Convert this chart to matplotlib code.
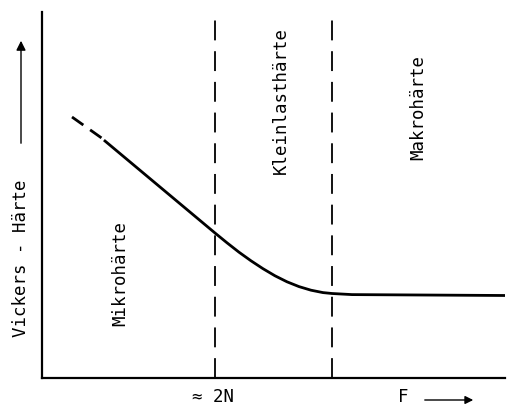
import matplotlib
matplotlib.use("Agg")
import matplotlib.pyplot as plt

# Data (abstract units: x ~ load F, y ~ Vickers hardness)
dash_x = [30, 61]
dash_y = [261, 239]
curve_x = [63, 118, 173, 185, 197, 209, 221, 233, 245, 257, 269, 281, 290, 310, 463]
curve_y = [237, 191, 145, 135.2, 125.8, 117.2, 109.3, 102.2, 96.2, 91.4, 87.8, 85.4, 84.5, 83.4, 82.5]
bounds_x = [173, 290]
bound_top = 366
region_labels = ["Mikrohärte", "Kleinlasthärte", "Makrohärte"]
region_x = [78, 239, 376]
region_y = [105, 278, 271]
tick_label = "≈ 2N"

W, H = 509, 416
FONT = "DejaVu Sans Mono"
fig = plt.figure(figsize=(W / 100, H / 100), dpi=100)
ax = fig.add_axes([42 / W, (H - 378) / H, (505 - 42) / W, (378 - 12) / H])
ax.set_xlim(0, 463)
ax.set_ylim(0, 366)
for s in ["top", "right"]:
    ax.spines[s].set_visible(False)
ax.spines["left"].set_linewidth(1.6)
ax.spines["bottom"].set_linewidth(1.6)
ax.set_xticks([])
ax.set_yticks([])

ax.plot(dash_x, dash_y, color="black", lw=2.0, dashes=(5, 3), solid_capstyle="butt")
ax.plot(curve_x, curve_y, color="black", lw=2.0, solid_joinstyle="round")
for bx in bounds_x:
    ax.plot([bx, bx], [0, bound_top], color="black", lw=1.3, dashes=(11, 6), clip_on=False)

fs = 12.5
for lab, lx, ly in zip(region_labels, region_x, region_y):
    ax.text(lx, ly, lab, rotation=90, ha="center", va="center", fontsize=fs, family=FONT)

ax.text(bounds_x[0] - 2, -19, tick_label, ha="center", va="center", fontsize=fs, family=FONT, clip_on=False)
ax.text(361, -19, "F", ha="center", va="center", fontsize=fs, family=FONT, clip_on=False)
ax.annotate("", xy=(434, -22), xytext=(380, -22), xycoords="data",
            arrowprops=dict(arrowstyle="-|>", color="black", lw=1.0, mutation_scale=12),
            annotation_clip=False)

fig.text(21 / W, 1 - 258 / H, "Vickers - Härte", rotation=90, ha="center", va="center", fontsize=fs, family=FONT)
fig.add_artist(matplotlib.patches.FancyArrowPatch((21 / W, 1 - 146 / H), (21 / W, 1 - 38 / H),
               transform=fig.transFigure, arrowstyle="-|>", mutation_scale=14, lw=1.0, color="black"))

fig.savefig("out.png", dpi=100)
